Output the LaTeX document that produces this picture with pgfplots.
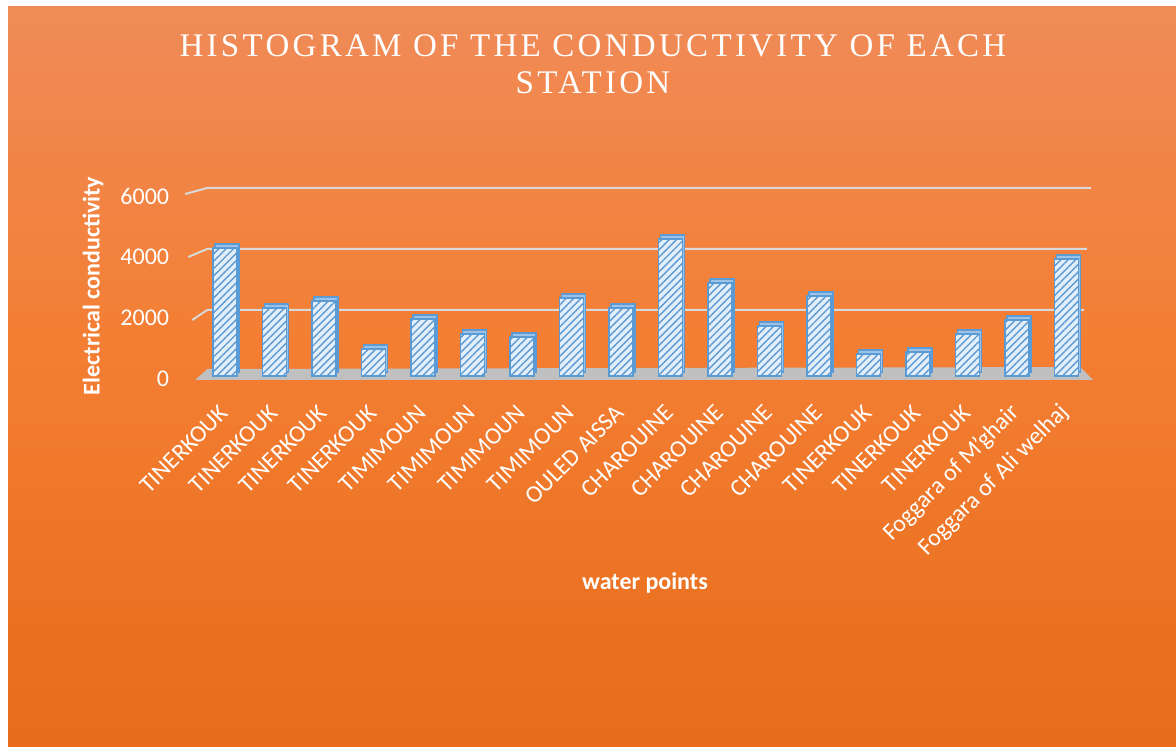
\documentclass[border=0pt]{standalone}
\usepackage{pgfplots}
\pgfplotsset{compat=1.18}
\usepackage{fontspec}
\setmainfont{Carlito}
\newfontfamily\titlefont[LetterSpace=10]{Liberation Serif}
\usetikzlibrary{patterns.meta}

\definecolor{bgtop}{HTML}{F08B58}
\definecolor{bgmid}{HTML}{F37E33}
\definecolor{bgbot}{HTML}{E86C1A}
\definecolor{barfill}{HTML}{E3EEF9}
\definecolor{barline}{HTML}{5B9BD5}
\definecolor{bartop}{HTML}{9CC2E8}
\definecolor{gridc}{HTML}{D9D9D9}
\definecolor{floorc}{HTML}{C0C0C0}

\pgfdeclareverticalshading{bgshade}{100bp}{color(0bp)=(bgbot); color(25bp)=(bgbot); color(52bp)=(bgmid); color(75bp)=(bgtop); color(100bp)=(bgtop)}

\begin{document}
\begin{tikzpicture}[x=1pt,y=1pt]
\path[use as bounding box] (0,0) rectangle (588,373.5);
\fill[white] (0,0) rectangle (588,373.5);
\shade[shading=bgshade] (4,0) rectangle (588,370);

% title
\node[text=white, font=\titlefont\fontsize{16.5}{18}\selectfont, anchor=base, inner sep=0pt] at (296.5,345) {HISTOGRAM OF THE CONDUCTIVITY OF EACH};
\node[text=white, font=\titlefont\fontsize{16.5}{18}\selectfont, anchor=base, inner sep=0pt] at (296.5,326.5) {STATION};

% axis titles
\node[rotate=90, text=white, font=\bfseries\fontsize{12}{14}\selectfont, inner sep=0pt] at (46.5,230.5) {Electrical conductivity};
\node[text=white, font=\bfseries\fontsize{12}{14}\selectfont, inner sep=0pt] at (322.5,82) {water points};

\begin{axis}[
  at={(100.1pt,185.5pt)}, anchor=south west,
  scale only axis, width=445.5pt, height=91.5pt,
  xmin=-0.5, xmax=17.5, ymin=0, ymax=6000,
  clip=false,
  axis line style={draw=none},
  major tick length=0pt,
  ytick={0,2000,4000,6000},
  xtick={0,...,17},
  xticklabels={TINERKOUK,TINERKOUK,TINERKOUK,TINERKOUK,TIMIMOUN,TIMIMOUN,TIMIMOUN,TIMIMOUN,OULED AISSA,CHAROUINE,CHAROUINE,CHAROUINE,CHAROUINE,TINERKOUK,TINERKOUK,TINERKOUK,Foggara of M'ghair,Foggara of Ali welhaj},
  /pgf/number format/1000 sep={},
  /pgf/number format/assume math mode=true,
  tick label style={text=white, font=\fontsize{12}{14}\selectfont},
  yticklabel style={anchor=east, xshift=-12pt, yshift=-1.5pt},
  xticklabel style={xshift=2pt, yshift=-14pt, rotate=45, anchor=east},
]
% floor
\fill[floorc] ([xshift=-2.5pt,yshift=-2pt]axis cs:-0.5,0) -- ([xshift=1pt,yshift=-2pt]axis cs:17.5,0) -- ([xshift=-5.5pt,yshift=4.5pt]axis cs:17.5,0) -- ([xshift=3.5pt,yshift=3.5pt]axis cs:-0.5,0) -- cycle;
% back wall grid lines
\draw[gridc, line width=1pt] ([xshift=-7.5pt,yshift=-0.5pt]axis cs:-0.5,6000) -- ([xshift=3.5pt,yshift=2.5pt]axis cs:-0.5,6000) -- ([yshift=2.5pt]axis cs:17.5,6000);
\draw[gridc, line width=1pt] ([xshift=-6pt,yshift=-1.5pt]axis cs:-0.5,4000) -- ([xshift=3.5pt,yshift=2.5pt]axis cs:-0.5,4000) -- ([xshift=-2pt,yshift=2.5pt]axis cs:17.5,4000);
\draw[gridc, line width=1pt] ([xshift=-4pt,yshift=-2.5pt]axis cs:-0.5,2000) -- ([xshift=3.5pt,yshift=2.5pt]axis cs:-0.5,2000) -- ([xshift=-3.5pt,yshift=2.5pt]axis cs:17.5,2000);

% column depth (top face)
\addplot[ybar, bar width=12pt, bar shift=0pt, draw=barline, fill=bartop, line width=0.8pt, xshift=1pt, yshift=2pt] coordinates {
 (0,4200) (1,2230) (2,2460) (3,890) (4,1870) (5,1380) (6,1280) (7,2560) (8,2230)
 (9,4490) (10,3050) (11,1640) (12,2620) (13,720) (14,790) (15,1380) (16,1840) (17,3840)};
% column front
\addplot[ybar, bar width=12pt, bar shift=0pt, draw=barline, line width=0.9pt, fill=barfill,
  postaction={pattern={Lines[angle=45,distance=2.6pt,line width=0.7pt]}, pattern color=barline}] coordinates {
 (0,4200) (1,2230) (2,2460) (3,890) (4,1870) (5,1380) (6,1280) (7,2560) (8,2230)
 (9,4490) (10,3050) (11,1640) (12,2620) (13,720) (14,790) (15,1380) (16,1840) (17,3840)};
\end{axis}
\end{tikzpicture}
\end{document}
